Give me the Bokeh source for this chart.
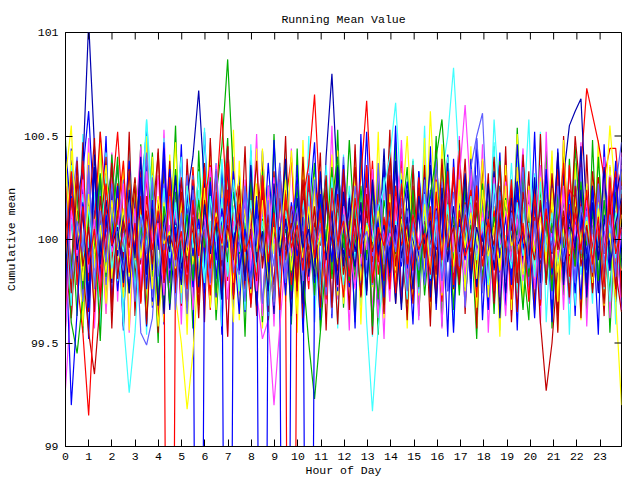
import math
from bokeh.plotting import figure
from bokeh.models import FixedTicker, Range1d
from bokeh.embed import file_html
from bokeh.resources import INLINE

TITLE = "Running Mean Value"
X_LABEL = "Hour of Day"
Y_LABEL = "Cumulative mean"

# sampling grid (hours of day) over the visible x extent 0 .. 23.92
HOURS = [round(i * 23.92 / 96, 4) for i in range(97)]
X_TICKS = list(range(24))
X_TICK_LABELS = [str(h) for h in X_TICKS]
Y_TICKS = [99, 99.5, 100, 100.5, 101]
Y_TICK_LABELS = ["99", "99.5", "100", "100.5", "101"]

COLORS = ["#ff0000", "#00b000", "#0000ff", "#ff40ff", "#40ffff", "#ffff00",
          "#c00000", "#0000b0", "#6060ff"]

D01 = [100.21, 99.84, 100.35, 99.92, 100.08, 99.71, 100.15, 100.02, 99.88, 100.27,
       99.95, 100.12, 99.78, 100.31, 100.05, 99.83, 100.19, 100.01, 95.00, 99.93,
       100.24, 99.86, 100.09, 99.74, 100.18, 100.36, 99.91, 100.03, 99.80, 100.14,
       100.29, 99.97, 99.69, 100.11, 100.22, 99.88, 100.06, 99.79, 100.17, 100.40,
       99.90, 100.04, 99.76, 100.25, 100.13, 99.85, 100.33, 99.98, 99.72, 100.10,
       100.20, 99.93, 100.07, 99.81, 100.28, 100.00, 99.75, 100.16, 100.38, 99.89,
       100.05, 99.82, 100.21, 99.94, 100.12, 99.70, 100.26, 100.09, 99.87, 100.31,
       99.96, 100.14, 99.78, 100.23, 100.02, 99.84, 100.19, 99.91, 100.35, 100.06,
       99.80, 100.27, 100.11, 99.95, 100.18, 99.88, 100.08, 100.24, 100.20, 100.35,
       100.73, 100.60, 100.47, 100.30, 100.44, 100.44, 100.10]
D02 = [99.88, 100.12, 99.63, 100.25, 99.94, 100.07, 99.51, 100.18, 100.33, 99.86,
       100.02, 99.74, 100.29, 99.97, 100.41, 99.82, 100.10, 99.68, 100.22, 100.05,
       99.79, 100.16, 99.90, 100.34, 100.03, 99.72, 100.21, 100.45, 100.87, 100.30,
       99.93, 100.08, 99.77, 100.19, 99.60, 100.26, 100.04, 99.85, 100.37, 99.96,
       100.13, 99.70, 100.24, 99.89, 100.06, 100.32, 99.81, 100.15, 99.92, 100.48,
       100.01, 99.76, 100.20, 99.58, 100.11, 99.95, 100.28, 99.84, 100.09, 100.35,
       99.87, 100.17, 99.73, 100.03, 100.42, 99.90, 100.23, 99.66, 100.14, 99.98,
       100.30, 99.80, 100.07, 100.19, 99.64, 100.25, 99.93, 100.12, 99.78, 100.38,
       99.95, 100.10, 99.69, 100.27, 100.02, 99.86, 100.33, 99.75, 100.16, 99.91,
       100.22, 99.83, 100.40, 99.97, 100.13, 99.71, 100.05]
D03 = [100.45, 100.10, 99.82, 100.26, 99.67, 100.08, 100.31, 99.90, 100.17, 99.75,
       100.03, 100.38, 99.86, 100.12, 99.58, 100.22, 99.95, 100.47, 99.80, 100.06,
       100.29, 99.91, 100.14, 95.00, 99.97, 100.20, 99.72, 100.35, 99.88, 100.01,
       99.64, 100.24, 100.09, 99.83, 100.43, 99.93, 100.16, 99.70, 95.00, 100.11,
       99.85, 100.30, 99.98, 100.07, 99.61, 100.19, 99.89, 100.36, 100.04, 99.77,
       100.21, 99.94, 100.52, 99.81, 100.13, 99.69, 100.27, 100.00, 99.87, 100.15,
       99.73, 100.33, 99.96, 100.08, 100.25, 99.79, 100.11, 99.55, 100.20, 99.92,
       100.39, 99.84, 100.05, 99.66, 100.28, 99.99, 100.14, 99.82, 100.46, 100.02,
       99.78, 100.18, 99.90, 100.31, 99.63, 100.09, 100.23, 99.86, 100.12, 99.71,
       100.26, 99.95, 100.17, 99.80, 100.34, 99.88, 100.04]
D04 = [99.28, 99.72, 100.05, 99.89, 100.23, 99.81, 100.12, 99.64, 100.30, 99.95,
       100.08, 99.77, 100.18, 99.93, 100.41, 99.85, 100.02, 100.26, 99.70, 100.14,
       99.90, 100.22, 99.66, 100.09, 99.98, 100.35, 99.79, 100.15, 99.87, 100.04,
       100.28, 99.83, 100.11, 99.74, 99.52, 99.61, 99.20, 99.58, 99.92, 100.17,
       99.96, 100.32, 99.80, 100.06, 100.24, 99.69, 100.13, 99.88, 100.37, 100.01,
       99.76, 100.19, 99.94, 100.07, 99.62, 100.27, 99.86, 100.10, 100.44, 99.82,
       100.15, 99.91, 100.03, 99.73, 100.29, 99.97, 100.20, 99.84, 100.11, 99.68,
       100.34, 99.89, 100.08, 100.23, 99.78, 100.00, 99.63, 100.16, 99.93, 100.05,
       99.87, 100.25, 99.71, 100.13, 99.99, 100.40, 99.82, 100.07, 99.95, 100.21,
       99.74, 100.10, 99.90, 100.31, 99.85, 100.02, 99.66]
D05 = [100.12, 99.85, 100.30, 99.97, 100.06, 99.73, 100.22, 99.90, 100.15, 99.80,
       100.01, 100.27, 99.86, 100.10, 100.58, 100.20, 99.77, 100.04, 99.92, 100.33,
       99.69, 100.13, 99.95, 100.24, 99.82, 100.07, 99.88, 100.39, 99.99, 100.16,
       99.75, 100.09, 100.28, 99.84, 100.02, 99.63, 100.19, 99.93, 100.11, 99.80,
       100.25, 99.97, 100.05, 99.71, 100.18, 99.89, 100.34, 100.00, 99.78, 100.14,
       99.91, 100.22, 99.60, 99.17, 99.58, 99.85, 100.12, 99.96, 100.29, 99.83,
       100.06, 99.74, 100.20, 99.94, 100.09, 100.31, 100.50, 100.83, 100.35, 99.98,
       100.15, 99.81, 100.03, 100.26, 99.70, 100.11, 99.92, 100.37, 99.87, 100.08,
       100.58, 99.79, 100.17, 99.95, 100.30, 99.86, 100.04, 100.21, 99.68, 100.13,
       99.90, 100.27, 99.82, 100.06, 100.18, 99.76, 100.01]
D06 = [100.30, 100.55, 99.92, 100.18, 99.81, 100.07, 100.24, 99.69, 100.11, 99.95,
       100.36, 99.87, 100.03, 100.19, 99.76, 100.09, 99.58, 99.91, 100.14, 99.72,
       99.50, 99.18, 99.45, 99.88, 100.06, 99.79, 100.21, 99.97, 100.32, 99.85,
       100.02, 100.15, 99.74, 100.27, 99.93, 100.08, 99.66, 100.20, 99.89, 100.43,
       99.98, 100.12, 99.83, 100.25, 99.71, 100.05, 100.17, 99.90, 100.34, 99.80,
       100.10, 99.94, 100.28, 99.77, 100.01, 99.62, 100.23, 99.86, 100.13, 100.50,
       99.96, 100.19, 99.84, 100.62, 100.07, 99.73, 100.16, 99.92, 100.29, 99.81,
       100.04, 99.67, 100.21, 99.99, 100.12, 99.88, 100.36, 99.75, 100.09, 99.93,
       100.26, 99.82, 100.14, 99.97, 100.40, 99.70, 100.03, 99.89, 100.18, 100.06,
       99.78, 100.32, 99.95, 100.11, 100.55, 100.20, 99.85]
D07 = [99.90, 99.62, 100.14, 99.86, 99.55, 99.35, 99.70, 100.08, 99.93, 100.21,
       99.79, 100.05, 100.30, 99.88, 100.12, 99.74, 100.19, 99.96, 100.38, 99.83,
       100.02, 99.67, 100.16, 99.94, 100.27, 99.80, 100.09, 99.87, 100.45, 99.98,
       100.11, 99.76, 100.22, 99.91, 100.04, 99.65, 100.33, 99.85, 100.13, 100.00,
       99.72, 100.18, 99.95, 100.07, 100.29, 99.82, 100.10, 99.59, 100.24, 99.89,
       100.15, 99.97, 100.35, 99.78, 100.06, 99.92, 100.20, 99.84, 100.01, 99.69,
       100.26, 99.87, 100.09, 99.99, 99.73, 100.17, 99.90, 100.32, 99.81, 100.12,
       99.94, 100.23, 99.77, 100.05, 100.40, 99.86, 100.14, 99.68, 100.08, 99.95,
       100.19, 99.80, 100.28, 99.91, 100.03, 99.63, 100.50, 99.88, 100.16, 99.99,
       100.11, 99.74, 100.25, 99.93, 100.07, 99.83, 100.36]
D08 = [100.02, 99.86, 100.18, 100.35, 101.05, 100.45, 99.94, 100.11, 99.79, 100.26,
       99.91, 100.07, 99.73, 100.20, 99.98, 100.33, 99.84, 100.13, 99.66, 100.04,
       100.17, 99.89, 100.28, 99.80, 100.09, 99.95, 100.23, 99.71, 100.14, 99.88,
       100.31, 100.00, 99.76, 100.19, 99.92, 100.06, 99.64, 100.25, 99.87, 100.12,
       99.97, 100.21, 99.82, 100.08, 99.74, 100.40, 100.80, 100.25, 99.93, 100.15,
       99.85, 100.03, 100.30, 99.78, 100.17, 99.90, 100.10, 99.69, 100.24, 99.96,
       100.13, 99.83, 100.01, 100.36, 99.88, 100.20, 99.75, 100.07, 99.94, 100.28,
       99.81, 100.16, 99.99, 100.11, 99.70, 100.26, 99.92, 100.05, 100.34, 99.86,
       100.09, 99.77, 100.19, 99.95, 100.02, 99.84, 100.30, 100.55, 100.62, 100.68,
       100.10, 99.89, 100.14, 99.72, 100.23, 99.98, 100.06]
D09 = [99.82, 100.16, 100.40, 99.93, 100.07, 99.68, 100.22, 99.89, 100.13, 100.35,
       99.96, 99.77, 100.10, 99.55, 99.49, 99.62, 100.04, 100.27, 99.85, 100.18,
       99.92, 100.31, 99.79, 100.06, 99.97, 100.20, 99.74, 100.12, 100.44, 99.87,
       100.03, 99.70, 100.25, 99.94, 100.14, 99.83, 100.09, 100.37, 99.90, 100.01,
       99.78, 100.19, 99.98, 100.29, 99.86, 100.05, 99.64, 100.23, 99.95, 100.11,
       100.33, 99.81, 100.08, 99.93, 100.17, 99.72, 100.26, 99.99, 100.04, 99.88,
       100.21, 99.76, 100.13, 99.90, 100.39, 99.97, 100.02, 99.84, 100.30, 99.67,
       100.10, 100.48, 100.15, 99.91, 100.06, 99.79, 100.24, 99.87, 100.12, 100.00,
       99.83, 100.20, 99.94, 100.07, 99.71, 100.28, 99.96, 100.16, 99.80, 100.35,
       99.92, 100.05, 99.75, 100.19, 99.88, 100.26, 100.47]
D10 = [99.97, 100.28, 99.80, 99.55, 99.15, 99.70, 100.12, 99.91, 100.21, 100.52,
       100.06, 99.84, 100.17, 99.95, 100.30, 99.73, 100.09, 99.88, 100.24, 99.99,
       100.14, 99.79, 100.35, 99.92, 100.03, 99.66, 100.19, 100.61, 100.08, 99.85,
       100.26, 99.96, 100.11, 99.74, 100.20, 99.87, 100.04, 100.33, 99.81, 95.00,
       100.13, 99.90, 100.27, 99.98, 100.07, 99.71, 100.22, 99.86, 100.15, 100.01,
       99.78, 100.18, 99.93, 100.38, 99.83, 100.10, 99.97, 100.25, 99.69, 100.05,
       100.16, 99.89, 100.02, 99.76, 100.29, 99.94, 100.12, 99.82, 100.43, 99.96,
       100.08, 99.72, 100.23, 99.91, 100.14, 99.85, 100.31, 100.00, 99.77, 100.19,
       99.93, 100.11, 99.68, 100.26, 99.99, 100.06, 99.80, 100.36, 99.90, 100.17,
       100.02, 99.84, 100.22, 99.95, 100.13, 99.70, 100.28]
D11 = [100.08, 99.60, 99.45, 99.72, 100.15, 99.93, 100.27, 99.85, 100.04, 100.36,
       99.90, 100.20, 99.76, 100.11, 99.97, 100.42, 99.83, 100.06, 99.69, 100.23,
       100.01, 99.88, 100.30, 99.95, 100.13, 99.78, 100.07, 99.99, 100.24, 99.82,
       100.17, 99.92, 100.05, 99.67, 100.33, 99.86, 100.10, 99.94, 100.21, 99.75,
       100.02, 99.84, 99.50, 99.23, 99.55, 99.91, 100.18, 100.40, 99.96, 100.09,
       99.80, 100.26, 99.93, 100.12, 99.71, 100.19, 100.03, 99.87, 100.31, 99.98,
       100.14, 99.77, 100.22, 99.89, 100.06, 100.35, 99.95, 100.11, 99.73, 100.27,
       99.99, 100.16, 99.82, 100.04, 99.92, 100.38, 99.85, 100.21, 100.00, 99.66,
       100.13, 99.94, 100.25, 99.79, 100.08, 99.97, 100.19, 99.88, 100.45, 100.02,
       99.81, 100.15, 99.96, 100.07, 99.74, 100.23, 99.91]
D12 = [99.75, 100.21, 99.94, 100.33, 100.62, 100.10, 99.87, 100.05, 99.98, 100.24,
       99.83, 100.16, 99.91, 100.29, 100.07, 99.70, 100.13, 99.95, 100.34, 100.02,
       99.86, 100.19, 99.77, 100.09, 99.93, 100.27, 99.81, 100.12, 95.00, 100.04,
       99.97, 100.22, 99.80, 100.15, 99.89, 100.37, 99.99, 100.06, 99.73, 100.18,
       99.92, 100.11, 95.00, 99.88, 100.25, 99.96, 100.03, 99.78, 100.20, 99.90,
       100.14, 99.84, 100.30, 99.97, 100.08, 99.65, 100.17, 99.93, 100.06, 100.28,
       99.88, 100.13, 99.79, 100.24, 99.95, 100.02, 100.41, 99.86, 100.10, 99.76,
       100.19, 99.90, 100.05, 99.71, 100.32, 99.98, 100.14, 99.83, 100.23, 99.96,
       100.07, 99.62, 100.18, 99.91, 100.29, 99.85, 100.01, 100.14, 99.74, 100.09,
       99.93, 100.26, 99.80, 100.12, 99.97, 100.38, 99.87]
D13 = [100.18, 99.79, 100.06, 99.91, 100.29, 99.68, 100.14, 99.95, 100.38, 99.84,
       100.03, 99.92, 100.22, 99.76, 100.10, 99.99, 100.31, 99.87, 100.07, 99.73,
       100.25, 99.96, 100.12, 99.82, 100.04, 100.35, 99.90, 100.17, 99.71, 100.09,
       99.94, 100.20, 99.85, 100.08, 99.63, 100.26, 99.98, 100.13, 99.81, 100.02,
       100.30, 99.89, 100.05, 99.74, 100.19, 99.93, 100.11, 99.86, 100.27, 100.00,
       99.77, 100.15, 99.95, 100.34, 99.88, 100.06, 99.70, 100.21, 99.97, 100.12,
       99.83, 100.24, 100.01, 99.90, 100.16, 99.75, 100.09, 99.94, 100.30, 100.65,
       100.20, 99.86, 100.13, 99.98, 100.05, 99.72, 100.28, 99.91, 100.10, 99.80,
       100.17, 99.96, 100.36, 99.85, 100.03, 99.92, 100.22, 99.69, 100.11, 99.99,
       100.07, 99.82, 100.24, 99.94, 100.15, 99.78, 100.42]
D14 = [99.93, 100.10, 99.78, 100.22, 99.96, 100.05, 99.84, 100.31, 99.89, 100.14,
       99.60, 99.26, 99.55, 100.02, 100.58, 100.12, 99.81, 100.25, 99.94, 100.07,
       99.87, 100.18, 99.99, 100.33, 99.76, 100.09, 99.92, 100.20, 99.83, 100.04,
       100.15, 99.95, 100.27, 99.80, 100.11, 99.68, 100.06, 99.97, 100.24, 99.86,
       100.01, 100.19, 99.90, 100.08, 99.73, 100.36, 99.98, 100.13, 99.85, 100.26,
       99.94, 100.05, 99.79, 100.17, 99.91, 100.30, 99.83, 100.09, 100.02, 99.71,
       100.21, 99.88, 100.14, 99.96, 100.03, 99.82, 100.40, 99.93, 100.12, 99.77,
       100.08, 99.97, 100.25, 99.85, 100.58, 100.16, 99.90, 100.04, 99.74, 100.19,
       99.95, 100.32, 99.86, 100.10, 99.99, 100.23, 99.80, 100.06, 99.92, 100.15,
       99.84, 100.20, 99.97, 100.09, 99.70, 100.13, 100.01]
D15 = [100.24, 99.78, 100.31, 99.86, 100.42, 99.69, 100.12, 100.36, 99.81, 100.20,
       99.72, 100.33, 99.90, 100.15, 99.62, 100.40, 99.83, 100.18, 99.95, 100.47,
       99.74, 100.26, 99.88, 100.09, 100.35, 99.67, 100.28, 99.91, 100.05, 99.60,
       100.38, 99.84, 100.19, 99.77, 100.44, 99.96, 99.70, 100.27, 99.87, 100.13,
       99.64, 100.34, 100.03, 99.80, 100.25, 99.92, 100.41, 99.73, 100.16, 99.86,
       100.30, 99.76, 100.08, 99.94, 100.37, 99.65, 100.22, 99.85, 100.32, 100.01,
       99.71, 100.24, 99.93, 100.15, 99.79, 100.46, 100.04, 99.84, 100.29, 99.75,
       100.21, 99.97, 100.39, 99.72, 100.10, 99.88, 100.26, 99.66, 100.35, 99.98,
       100.17, 99.81, 100.30, 99.90, 100.19, 99.70, 100.48, 99.86, 100.07, 99.95,
       100.27, 99.79, 100.18, 99.68, 100.36, 99.89, 100.12]
D16 = [100.26, 99.84, 100.38, 99.73, 100.09, 100.49, 99.81, 100.27, 99.66, 100.14,
       99.91, 100.34, 99.77, 100.21, 99.59, 100.10, 100.42, 99.85, 100.17, 99.74,
       100.30, 99.93, 100.06, 99.68, 100.37, 99.82, 100.19, 99.95, 100.45, 99.71,
       100.12, 99.88, 100.29, 99.63, 100.23, 100.02, 99.78, 100.33, 99.90, 100.16,
       99.75, 100.40, 99.86, 100.08, 99.97, 100.31, 99.67, 100.22, 99.83, 100.05,
       100.35, 99.72, 100.14, 99.89, 100.28, 99.64, 100.43, 99.94, 100.06, 99.80,
       100.20, 99.87, 100.36, 99.70, 100.11, 99.96, 100.27, 99.76, 99.99, 100.39,
       99.82, 100.18, 99.93, 100.32, 99.69, 100.10, 99.88, 100.24, 99.79, 100.41,
       99.92, 100.08, 99.60, 99.27, 99.50, 99.88, 100.14, 99.92, 100.50, 100.18,
       99.76, 100.33, 100.02, 99.69, 100.21, 99.85, 99.65]
D17 = [99.80, 100.32, 99.89, 100.17, 99.70, 100.41, 100.06, 99.83, 100.25, 99.92,
       100.12, 99.74, 100.22, 99.95, 100.36, 99.85, 100.09, 99.64, 100.29, 100.01,
       99.78, 100.21, 100.40, 100.72, 100.26, 99.86, 100.13, 99.97, 100.34, 99.73,
       100.18, 99.92, 100.05, 99.68, 100.31, 99.84, 100.15, 99.99, 100.39, 99.80,
       100.08, 99.69, 100.27, 99.91, 100.17, 99.76, 100.03, 100.35, 99.87, 100.20,
       99.94, 100.12, 99.75, 100.28, 99.90, 100.44, 99.82, 100.07, 99.66, 100.24,
       100.00, 99.86, 100.30, 99.72, 100.15, 99.95, 100.37, 99.79, 100.10, 99.97,
       100.23, 99.77, 100.06, 99.93, 100.33, 99.62, 100.19, 99.99, 100.28, 99.84,
       100.03, 100.21, 99.88, 100.12, 99.95, 100.40, 99.78, 100.17, 99.91, 100.45,
       99.85, 100.26, 99.74, 100.10, 99.94, 100.20, 100.34]
D18 = [100.18, 99.85, 100.06, 99.70, 100.33, 99.93, 100.24, 99.78, 100.11, 99.98,
       100.29, 99.81, 100.15, 99.90, 100.42, 99.72, 100.08, 99.95, 100.20, 99.66,
       100.12, 99.97, 100.31, 99.80, 100.03, 99.88, 100.37, 99.74, 100.22, 99.91,
       99.83, 100.26, 99.96, 100.16, 99.69, 100.07, 99.87, 100.35, 99.79, 100.13,
       100.23, 99.94, 100.04, 99.73, 100.30, 99.86, 100.11, 99.99, 100.40, 99.82,
       100.08, 99.76, 100.25, 99.92, 100.17, 99.81, 100.02, 100.33, 99.89, 100.14,
       99.86, 100.21, 99.78, 100.09, 99.97, 100.28, 99.75, 100.16, 99.93, 100.05,
       100.35, 100.50, 100.61, 100.00, 99.88, 100.23, 99.80, 100.12, 99.95, 100.31,
       99.77, 100.09, 99.90, 100.27, 99.84, 100.19, 99.98, 99.71, 100.29, 99.93,
       100.14, 99.83, 100.24, 99.89, 100.06, 99.79, 100.26]
D19 = [99.72, 100.20, 99.94, 100.38, 99.80, 100.08, 100.52, 100.16, 99.88, 100.27,
       99.77, 100.11, 99.96, 100.33, 99.83, 100.19, 99.68, 100.03, 100.25, 99.91,
       100.13, 99.79, 100.29, 99.95, 100.06, 99.73, 100.23, 99.90, 100.37, 99.82,
       100.09, 99.93, 100.18, 99.75, 100.31, 99.98, 100.12, 99.84, 100.24, 99.78,
       100.02, 100.20, 100.36, 100.70, 100.15, 99.86, 100.14, 99.95, 100.32, 99.79,
       100.04, 100.30, 100.67, 100.12, 99.89, 100.11, 99.76, 100.26, 99.97, 100.07,
       99.85, 100.30, 99.93, 100.16, 99.74, 100.21, 99.98, 100.35, 99.81, 100.09,
       100.24, 99.88, 100.05, 99.80, 100.28, 99.96, 100.13, 99.71, 100.19, 100.02,
       99.92, 100.25, 99.84, 100.10, 99.78, 100.34, 99.97, 100.17, 99.87, 100.04,
       100.21, 99.94, 100.30, 99.76, 100.12, 100.33, 99.72]
D20 = [100.09, 99.85, 100.24, 99.76, 100.13, 99.95, 100.32, 99.82, 100.41, 100.01,
       99.86, 100.21, 99.78, 100.06, 99.93, 100.27, 99.71, 100.16, 99.98, 100.34,
       99.90, 100.12, 99.80, 100.19, 99.96, 100.30, 99.74, 100.07, 99.89, 100.23,
       100.00, 99.83, 100.28, 99.92, 100.10, 99.79, 100.18, 99.95, 100.05, 99.84,
       100.26, 99.94, 100.13, 99.73, 100.20, 99.99, 100.35, 99.87, 100.03, 99.80,
       100.16, 99.90, 100.08, 99.97, 100.29, 99.77, 100.19, 99.93, 100.11, 99.86,
       100.24, 99.81, 100.04, 100.22, 100.40, 100.58, 100.15, 99.90, 100.14, 99.95,
       100.07, 99.84, 100.27, 99.79, 100.11, 99.98, 100.20, 99.89, 100.02, 100.31,
       99.82, 100.17, 99.93, 100.09, 99.75, 100.23, 99.96, 100.06, 99.87, 100.28,
       99.97, 100.13, 99.80, 100.19, 99.92, 100.08, 99.86]
D21 = [100.03, 99.20, 99.65, 100.18, 99.90, 100.35, 99.80, 100.12, 99.95, 100.26,
       99.83, 100.08, 99.94, 100.30, 99.76, 100.19, 99.97, 100.39, 99.86, 100.06,
       99.81, 100.23, 99.92, 100.10, 99.74, 100.28, 99.90, 100.15, 99.96, 100.33,
       99.85, 100.05, 99.78, 100.21, 95.00, 99.93, 100.25, 99.82, 100.09, 99.98,
       100.31, 99.88, 100.13, 99.79, 100.22, 99.95, 100.02, 99.75, 100.36, 99.91,
       100.10, 99.83, 100.27, 99.94, 100.06, 99.72, 100.17, 99.97, 100.29, 99.86,
       100.04, 99.92, 100.23, 99.80, 100.14, 99.99, 100.32, 99.77, 100.08, 99.90,
       100.19, 99.95, 100.03, 99.82, 100.26, 99.91, 100.11, 99.78, 100.28, 99.97,
       99.87, 100.16, 99.94, 100.34, 99.83, 100.07, 99.89, 100.22, 99.99, 100.12,
       99.79, 100.24, 99.91, 100.04, 99.85, 100.30, 99.96]
D22 = [99.55, 100.14, 99.92, 100.29, 99.84, 100.10, 99.76, 100.22, 99.94, 100.05,
       100.27, 99.87, 100.15, 99.79, 100.33, 99.95, 100.08, 99.73, 100.19, 99.93,
       100.02, 99.83, 100.26, 99.91, 100.12, 99.78, 100.36, 99.98, 100.06, 99.86,
       100.23, 99.89, 100.11, 99.75, 100.18, 99.97, 100.30, 99.82, 100.01, 99.92,
       100.14, 99.80, 100.21, 99.95, 100.04, 99.85, 100.28, 99.77, 100.16, 99.96,
       100.07, 99.88, 100.25, 99.81, 100.34, 99.92, 100.03, 99.96, 100.19, 99.79,
       100.12, 99.98, 100.22, 99.87, 100.09, 99.74, 100.27, 99.94, 100.05, 99.83,
       100.17, 99.93, 100.06, 99.80, 100.30, 99.97, 100.14, 99.89, 100.10, 99.85,
       100.24, 99.76, 100.13, 99.96, 100.03, 99.91, 100.26, 99.82, 100.07, 99.95,
       100.19, 99.86, 100.09, 99.98, 100.31, 99.80, 100.05]
D23 = [100.12, 99.68, 100.28, 99.90, 100.16, 99.80, 100.04, 100.24, 99.86, 100.07,
       99.94, 100.20, 99.75, 100.12, 99.97, 100.31, 99.83, 100.08, 99.91, 100.18,
       99.87, 100.26, 99.96, 100.05, 99.79, 100.21, 99.99, 100.11, 99.82, 100.29,
       100.03, 99.89, 100.19, 99.84, 100.09, 99.93, 100.25, 99.77, 100.14, 99.98,
       100.06, 99.85, 100.23, 99.95, 100.01, 99.81, 100.30, 99.90, 100.12, 99.96,
       100.20, 99.79, 100.08, 99.99, 100.15, 100.25, 100.40, 100.66, 100.20, 99.92,
       100.03, 99.87, 100.22, 99.81, 100.10, 99.95, 100.17, 99.84, 100.06, 99.97,
       100.21, 99.90, 100.09, 99.78, 100.27, 99.96, 100.02, 99.86, 100.18, 99.92,
       100.08, 99.82, 100.28, 99.94, 100.13, 99.88, 100.04, 99.79, 100.22, 99.98,
       100.11, 99.93, 100.17, 99.76, 100.07, 99.91, 100.24]
D24 = [99.88, 100.43, 100.10, 99.80, 100.22, 99.93, 100.07, 99.84, 100.19, 99.95,
       100.15, 99.82, 100.27, 99.91, 100.09, 99.76, 100.21, 99.98, 100.04, 99.86,
       100.18, 99.92, 100.08, 99.81, 100.25, 99.90, 100.13, 99.97, 100.05, 99.79,
       100.23, 99.87, 100.12, 99.94, 100.19, 99.78, 100.06, 99.96, 100.29, 99.85,
       100.09, 99.91, 100.16, 99.83, 100.03, 99.93, 100.20, 99.86, 100.11, 99.99,
       100.26, 99.80, 100.07, 99.95, 100.14, 99.88, 100.22, 99.79, 100.10, 99.97,
       100.04, 99.89, 100.17, 99.84, 100.28, 99.93, 100.08, 99.87, 100.21, 99.96,
       100.13, 99.81, 100.24, 99.92, 100.06, 99.85, 100.19, 99.97, 100.02, 99.83,
       100.16, 99.94, 100.11, 99.88, 100.25, 99.84, 100.05, 99.93, 100.20, 99.98,
       100.09, 99.86, 100.15, 99.95, 100.03, 99.70, 99.20]
D25 = [100.15, 99.74, 100.30, 99.87, 100.06, 99.65, 100.21, 99.92, 100.37, 99.81,
       100.09, 99.96, 100.27, 99.70, 100.14, 99.88, 100.44, 99.79, 100.02, 99.93,
       100.23, 99.84, 100.11, 99.62, 100.19, 99.97, 100.33, 99.76, 100.07, 99.90,
       100.26, 99.82, 100.04, 100.38, 99.86, 100.12, 99.71, 100.20, 99.95, 100.08,
       99.77, 100.29, 99.89, 100.16, 99.67, 100.24, 100.01, 99.85, 100.34, 99.92,
       100.10, 99.73, 100.22, 99.94, 100.05, 99.80, 100.31, 99.87, 100.15, 99.98,
       99.69, 100.25, 99.91, 100.13, 99.83, 100.39, 99.96, 100.06, 99.78, 100.18,
       99.88, 100.28, 99.75, 100.09, 99.97, 100.36, 99.84, 100.14, 99.65, 100.23,
       100.03, 99.90, 100.19, 99.79, 100.32, 99.95, 100.11, 99.72, 100.26, 99.87,
       100.07, 99.82, 100.30, 99.93, 100.17, 99.76, 100.22]
D26 = [99.84, 100.28, 99.95, 100.12, 99.72, 100.35, 99.88, 100.19, 99.97, 100.06,
       99.79, 100.24, 99.91, 100.40, 99.83, 100.15, 99.68, 100.09, 99.94, 100.31,
       99.86, 100.02, 100.26, 99.77, 100.17, 99.93, 100.08, 99.71, 100.22, 99.98,
       100.13, 99.80, 100.36, 99.89, 100.04, 99.75, 100.27, 99.92, 100.10, 99.63,
       100.20, 99.96, 100.05, 99.82, 100.33, 99.90, 100.14, 99.78, 100.23, 100.00,
       99.87, 100.18, 99.73, 100.29, 99.95, 100.07, 99.84, 100.38, 99.91, 100.11,
       99.76, 100.21, 99.98, 100.09, 99.69, 100.25, 99.89, 100.16, 99.94, 100.32,
       99.81, 100.06, 99.92, 100.27, 99.85, 100.13, 99.74, 100.20, 99.97, 100.04,
       99.88, 100.30, 99.79, 100.15, 99.93, 100.42, 99.83, 100.10, 99.96, 100.24,
       99.72, 100.18, 99.90, 100.35, 99.86, 100.08, 100.20]
D27 = [100.22, 99.81, 100.09, 99.94, 100.36, 99.76, 100.14, 99.89, 100.27, 99.97,
       99.85, 100.18, 99.70, 100.11, 99.93, 100.30, 99.82, 100.05, 100.21, 99.87,
       100.13, 99.64, 100.24, 99.96, 100.07, 99.79, 100.34, 99.90, 100.16, 99.84,
       99.98, 100.25, 99.77, 100.10, 99.92, 100.19, 99.68, 100.28, 99.86, 100.03,
       100.15, 99.80, 100.32, 99.95, 100.08, 99.73, 100.22, 99.91, 100.12, 99.83,
       100.26, 99.97, 100.04, 99.78, 100.37, 99.88, 100.11, 99.94, 100.20, 99.75,
       100.09, 99.85, 100.29, 99.92, 100.14, 99.80, 100.02, 100.23, 99.87, 100.17,
       99.96, 100.31, 99.74, 100.06, 99.90, 100.21, 99.83, 100.13, 99.97, 100.35,
       99.86, 100.07, 99.71, 100.18, 99.94, 100.26, 99.89, 100.05, 99.79, 100.16,
       100.01, 99.84, 100.27, 99.93, 100.12, 99.82, 100.40]
D28 = [99.93, 100.33, 99.78, 100.16, 99.88, 100.05, 99.72, 100.26, 99.97, 100.12,
       100.38, 99.84, 100.08, 99.69, 100.21, 99.95, 100.14, 99.81, 100.30, 99.90,
       100.04, 99.76, 100.19, 99.92, 100.35, 99.86, 100.11, 99.98, 100.24, 99.73,
       100.17, 99.94, 100.02, 99.80, 100.28, 99.89, 100.13, 99.66, 100.22, 99.96,
       100.07, 99.85, 100.31, 99.91, 100.15, 99.77, 100.25, 99.99, 100.09, 99.82,
       100.20, 99.93, 100.36, 99.79, 100.06, 99.97, 100.18, 99.74, 100.27, 99.88,
       100.12, 99.95, 100.03, 99.83, 100.23, 99.90, 100.33, 99.78, 100.14, 99.92,
       100.01, 100.26, 99.87, 100.10, 99.75, 100.19, 99.96, 100.29, 99.84, 100.08,
       99.70, 100.22, 99.91, 100.15, 99.86, 100.04, 100.37, 99.82, 100.13, 99.95,
       100.24, 99.88, 100.11, 99.77, 100.30, 99.93, 100.06]
D29 = [100.48, 99.62, 100.31, 99.55, 100.22, 99.80, 100.52, 99.71, 100.05, 100.40,
       99.58, 100.27, 99.85, 100.46, 99.66, 100.12, 99.50, 100.36, 99.92, 100.55,
       99.68, 100.18, 99.57, 100.43, 99.83, 100.30, 99.61, 100.08, 100.49, 99.74,
       100.25, 99.53, 100.39, 99.88, 100.14, 99.64, 100.51, 99.79, 100.20, 99.59,
       100.44, 99.72, 100.02, 100.37, 99.56, 100.28, 99.86, 100.53, 99.67, 100.16,
       99.60, 100.42, 99.90, 100.24, 99.54, 100.33, 99.77, 100.47, 99.69, 100.10,
       100.38, 99.63, 100.19, 99.81, 100.50, 99.58, 100.26, 99.93, 100.41, 99.70,
       100.07, 99.52, 100.34, 99.84, 100.45, 99.65, 100.21, 99.76, 100.54, 99.89,
       99.61, 100.29, 99.95, 100.43, 99.57, 100.15, 99.73, 100.39, 99.87, 100.23,
       99.66, 100.48, 99.80, 100.32, 99.55, 100.11, 99.70]
D30 = [99.60, 100.44, 99.78, 100.27, 99.52, 100.35, 99.94, 100.50, 99.70, 100.13,
       99.56, 100.40, 99.82, 100.21, 100.53, 99.67, 100.09, 99.59, 100.32, 99.86,
       100.46, 99.63, 100.17, 99.75, 100.52, 99.91, 100.28, 99.54, 100.38, 99.81,
       100.06, 99.65, 100.43, 99.73, 100.25, 99.58, 100.48, 99.96, 100.19, 99.69,
       100.36, 99.55, 100.12, 100.47, 99.77, 100.30, 99.62, 100.41, 99.85, 100.23,
       99.57, 100.51, 99.79, 100.15, 99.64, 100.37, 99.90, 100.55, 99.71, 100.04,
       99.59, 100.33, 99.83, 100.45, 99.66, 100.20, 99.53, 100.39, 99.87, 100.26,
       99.74, 100.49, 99.61, 100.14, 99.93, 100.42, 99.68, 100.29, 99.56, 100.35,
       99.82, 100.52, 99.72, 100.18, 99.60, 100.44, 99.88, 100.24, 99.63, 100.40,
       99.78, 100.11, 99.54, 100.46, 99.85, 100.30, 99.66]
D31 = [100.38, 99.66, 100.24, 99.83, 100.49, 99.57, 100.15, 99.92, 100.42, 99.70,
       100.31, 99.55, 100.06, 100.45, 99.76, 100.20, 99.62, 100.53, 99.87, 100.27,
       99.59, 100.36, 99.80, 100.13, 99.68, 100.47, 99.95, 100.22, 99.53, 100.40,
       99.73, 100.29, 99.89, 100.51, 99.64, 100.17, 99.58, 100.34, 99.81, 100.44,
       99.69, 100.10, 100.39, 99.60, 100.26, 99.84, 100.55, 99.71, 100.18, 99.56,
       100.43, 99.93, 100.30, 99.65, 100.08, 99.52, 100.37, 99.78, 100.48, 99.86,
       100.21, 99.61, 100.41, 99.74, 100.12, 99.57, 100.33, 99.97, 100.50, 99.67,
       100.25, 99.82, 100.46, 99.55, 100.16, 99.88, 100.38, 99.63, 100.09, 100.44,
       99.72, 100.28, 99.59, 100.52, 99.80, 100.19, 99.66, 100.35, 99.91, 100.47,
       99.58, 100.23, 99.75, 100.40, 99.62, 100.14, 99.85]
D32 = [99.64, 100.36, 99.88, 100.51, 99.70, 100.23, 99.56, 100.42, 99.81, 100.17,
       99.60, 100.45, 99.93, 100.28, 99.54, 100.33, 99.77, 100.49, 99.69, 100.12,
       100.40, 99.62, 100.25, 99.85, 100.54, 99.72, 100.07, 99.58, 100.37, 99.90,
       100.20, 99.66, 100.46, 99.79, 100.31, 99.55, 100.14, 99.87, 100.43, 99.63,
       100.27, 99.75, 100.50, 99.60, 100.18, 99.94, 100.35, 99.57, 100.41, 99.82,
       100.09, 99.68, 100.32, 99.53, 100.24, 99.86, 100.48, 99.71, 100.15, 99.61,
       100.39, 99.80, 100.55, 99.65, 100.21, 99.92, 100.34, 99.58, 100.44, 99.76,
       100.11, 99.63, 100.29, 99.84, 100.47, 99.56, 100.19, 99.73, 100.38, 99.67,
       100.26, 99.89, 100.52, 99.60, 100.13, 99.78, 100.42, 99.54, 100.30, 99.83,
       100.06, 99.69, 100.45, 99.74, 100.22, 99.59, 100.36]
D33 = [100.42, 99.72, 100.19, 99.58, 100.33, 99.86, 100.47, 99.64, 100.10, 99.79,
       100.38, 99.56, 100.26, 99.91, 100.50, 99.68, 100.15, 99.60, 100.41, 99.83,
       100.22, 99.54, 100.35, 99.76, 100.08, 100.46, 99.66, 100.29, 99.87, 100.53,
       99.61, 100.17, 99.74, 100.44, 99.57, 100.24, 99.93, 100.37, 99.70, 100.12,
       99.55, 100.48, 99.82, 100.30, 99.63, 100.19, 99.97, 100.43, 99.69, 100.05,
       100.39, 99.59, 100.27, 99.78, 100.52, 99.65, 100.14, 99.88, 100.34, 99.57,
       100.23, 99.73, 100.49, 99.62, 100.18, 99.85, 100.40, 99.67, 100.09, 99.94,
       100.45, 99.58, 100.31, 99.80, 100.16, 99.53, 100.36, 99.77, 100.51, 99.70,
       100.03, 99.64, 100.28, 99.90, 100.43, 99.56, 100.21, 99.84, 100.37, 99.61,
       100.13, 99.75, 100.48, 99.67, 100.25, 99.88, 100.33]
D34 = [99.58, 100.30, 99.81, 100.47, 99.65, 100.14, 99.92, 100.40, 99.57, 100.26,
       99.74, 100.52, 99.63, 100.19, 99.86, 100.35, 99.55, 100.44, 99.79, 100.11,
       99.68, 100.39, 99.90, 100.23, 99.60, 100.49, 99.77, 100.16, 99.53, 100.32,
       99.84, 100.45, 99.67, 100.07, 100.37, 99.59, 100.21, 99.88, 100.50, 99.71,
       100.28, 99.62, 100.13, 99.95, 100.42, 99.56, 100.34, 99.80, 100.18, 99.66,
       100.46, 99.73, 100.24, 99.54, 100.31, 99.87, 100.53, 99.69, 100.10, 99.61,
       100.36, 99.83, 100.20, 99.58, 100.43, 99.75, 100.15, 99.93, 100.48, 99.64,
       100.27, 99.57, 100.38, 99.82, 100.12, 99.70, 100.45, 99.60, 100.22, 99.89,
       100.33, 99.66, 100.51, 99.78, 100.17, 99.55, 100.40, 99.85, 100.25, 99.62,
       100.41, 99.76, 100.09, 99.63, 100.35, 99.91, 100.19]

# wide-spread days are drawn first, the rest on top
SERIES = [D29, D30, D31, D32, D33, D34,
          D01, D02, D03, D04, D05, D06, D07, D08, D09, D10, D11, D12, D13, D14,
          D15, D16, D17, D18, D19, D20, D21, D22, D23, D24, D25, D26, D27, D28]
SERIES_COLORS = ["#00b000", "#0000ff", "#ff40ff", "#40ffff", "#ffff00", "#c00000"] + \
    [COLORS[i % len(COLORS)] for i in range(28)]

FONT = "Liberation Mono"
FSIZE = "11.5px"
X_END = 23.92
Y_START, Y_END = 99, 101

p = figure(width=640, height=480, output_backend="svg", toolbar_location=None,
           x_range=Range1d(0, X_END), y_range=Range1d(Y_START, Y_END),
           min_border_left=65, min_border_right=19, min_border_top=32,
           min_border_bottom=34, background_fill_color="white",
           border_fill_color="white", outline_line_color="black")

p.title.text = TITLE
p.title.align = "center"
p.title.text_font = FONT
p.title.text_font_size = FSIZE
p.title.text_font_style = "normal"
p.title.text_color = "black"
p.title.standoff = 13

for ys, col in zip(SERIES, SERIES_COLORS):
    p.line(HOURS, ys, line_color=col, line_width=1.2)

p.grid.visible = False

xax = p.xaxis[0]
yax = p.yaxis[0]
xax.ticker = FixedTicker(ticks=X_TICKS)
xax.major_label_overrides = {t: l for t, l in zip(X_TICKS, X_TICK_LABELS)}
yax.ticker = FixedTicker(ticks=Y_TICKS)
yax.major_label_overrides = {t: l for t, l in zip(Y_TICKS, Y_TICK_LABELS)}
xax.axis_label = X_LABEL
yax.axis_label = Y_LABEL
xax.major_label_standoff = 6
xax.axis_label_standoff = 1
yax.major_label_standoff = 7
yax.axis_label_standoff = 3

for ax in (xax, yax):
    ax.axis_line_color = "black"
    ax.major_tick_line_color = "black"
    ax.major_tick_in = 7
    ax.major_tick_out = 0
    ax.minor_tick_line_color = None
    ax.major_label_text_font = FONT
    ax.major_label_text_font_size = FSIZE
    ax.major_label_text_color = "black"
    ax.axis_label_text_font = FONT
    ax.axis_label_text_font_size = FSIZE
    ax.axis_label_text_font_style = "normal"
    ax.axis_label_text_color = "black"

# mirror tick marks on the top and right borders (half of each dash lies
# inside the frame; the outer half is clipped away)
p.scatter(x=X_TICKS, y=[Y_END] * len(X_TICKS), marker="dash", size=14,
          angle=math.pi / 2, line_color="black", line_width=1)
p.scatter(x=[X_END] * len(Y_TICKS), y=Y_TICKS, marker="dash", size=14,
          line_color="black", line_width=1)

open("out.html", "w").write(file_html(p, INLINE))
